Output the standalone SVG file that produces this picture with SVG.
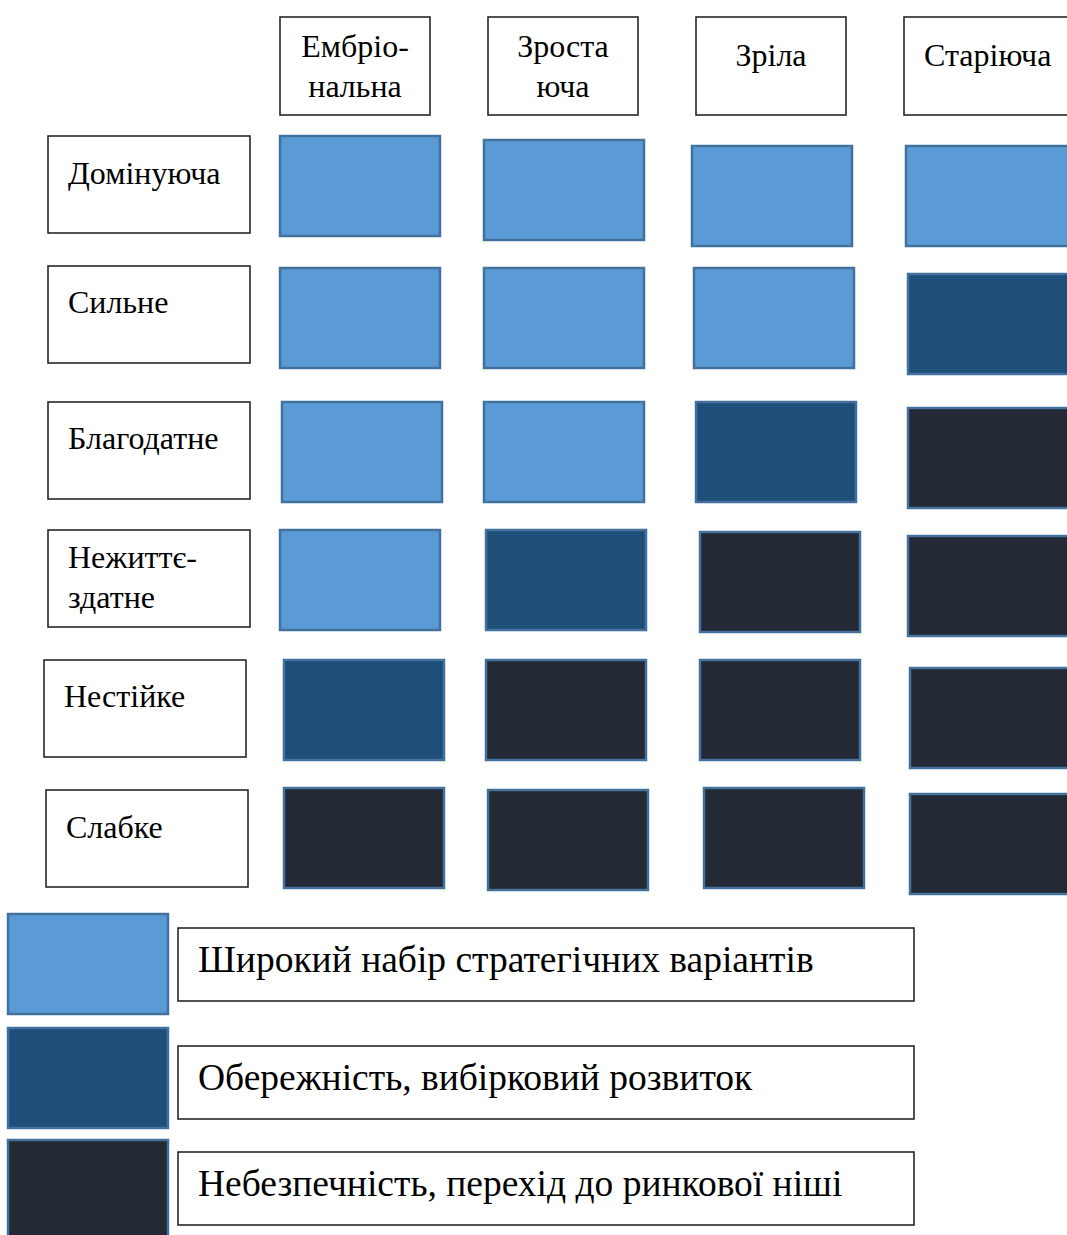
<svg xmlns="http://www.w3.org/2000/svg" width="1067" height="1235" viewBox="0 0 1067 1235">
<style>
.box{fill:#fff;stroke:#1a1a1a;stroke-width:1.5}
.t{font-family:"Liberation Serif","Times New Roman",serif;font-size:32px;fill:#000}
.tl{font-family:"Liberation Serif","Times New Roman",serif;font-size:37.5px;fill:#000}
.L{fill:#5B9BD5;stroke:#41719C;stroke-width:2.5}
.M{fill:#1F4E79;stroke:#41719C;stroke-width:2.5}
.D{fill:#232A35;stroke:#41719C;stroke-width:2.5}
</style>
<rect width="1067" height="1235" fill="#fff"/>
<g id="headers">
<g id="h1"><rect class="box" x="280" y="17" width="150" height="98"/><text class="t" x="355" y="57" text-anchor="middle">Ембріо-</text><text class="t" x="355" y="97" text-anchor="middle">нальна</text></g>
<g id="h2"><rect class="box" x="488" y="17" width="150" height="98"/><text class="t" x="563" y="57" text-anchor="middle">Зроста</text><text class="t" x="563" y="97" text-anchor="middle">юча</text></g>
<g id="h3"><rect class="box" x="696" y="17" width="150" height="98"/><text class="t" x="771" y="66" text-anchor="middle">Зріла</text></g>
<g id="h4"><rect class="box" x="904" y="17" width="170" height="98"/><text class="t" x="924" y="66">Старіюча</text></g>
</g>
<g id="rows">
<g id="r1"><rect class="box" x="48" y="136" width="202" height="97"/><text class="t" x="68" y="184">Домінуюча</text></g>
<g id="r2"><rect class="box" x="48" y="266" width="202" height="97"/><text class="t" x="68" y="313">Сильне</text></g>
<g id="r3"><rect class="box" x="48" y="402" width="202" height="97"/><text class="t" x="68" y="449">Благодатне</text></g>
<g id="r4"><rect class="box" x="48" y="530" width="202" height="97"/><text class="t" x="68" y="568">Нежиттє-</text><text class="t" x="68" y="608">здатне</text></g>
<g id="r5"><rect class="box" x="44" y="660" width="202" height="97"/><text class="t" x="64" y="707">Нестійке</text></g>
<g id="r6"><rect class="box" x="46" y="790" width="202" height="97"/><text class="t" x="66" y="838">Слабке</text></g>
</g>
<g id="cells">
<rect id="c11" class="L" x="280" y="136" width="160" height="100"/>
<rect id="c12" class="L" x="484" y="140" width="160" height="100"/>
<rect id="c13" class="L" x="692" y="146" width="160" height="100"/>
<rect id="c14" class="L" x="906" y="146" width="170" height="100"/>
<rect id="c21" class="L" x="280" y="268" width="160" height="100"/>
<rect id="c22" class="L" x="484" y="268" width="160" height="100"/>
<rect id="c23" class="L" x="694" y="268" width="160" height="100"/>
<rect id="c24" class="M" x="908" y="274" width="170" height="100"/>
<rect id="c31" class="L" x="282" y="402" width="160" height="100"/>
<rect id="c32" class="L" x="484" y="402" width="160" height="100"/>
<rect id="c33" class="M" x="696" y="402" width="160" height="100"/>
<rect id="c34" class="D" x="908" y="408" width="170" height="100"/>
<rect id="c41" class="L" x="280" y="530" width="160" height="100"/>
<rect id="c42" class="M" x="486" y="530" width="160" height="100"/>
<rect id="c43" class="D" x="700" y="532" width="160" height="100"/>
<rect id="c44" class="D" x="908" y="536" width="170" height="100"/>
<rect id="c51" class="M" x="284" y="660" width="160" height="100"/>
<rect id="c52" class="D" x="486" y="660" width="160" height="100"/>
<rect id="c53" class="D" x="700" y="660" width="160" height="100"/>
<rect id="c54" class="D" x="910" y="668" width="170" height="100"/>
<rect id="c61" class="D" x="284" y="788" width="160" height="100"/>
<rect id="c62" class="D" x="488" y="790" width="160" height="100"/>
<rect id="c63" class="D" x="704" y="788" width="160" height="100"/>
<rect id="c64" class="D" x="910" y="794" width="170" height="100"/>
</g>
<g id="legend">
<g id="lg1"><rect class="L" x="8" y="914" width="160" height="100"/><rect class="box" x="178" y="928" width="736" height="73"/><text class="tl" x="198" y="972">Широкий набір стратегічних варіантів</text></g>
<g id="lg2"><rect class="M" x="8" y="1028" width="160" height="100"/><rect class="box" x="178" y="1046" width="736" height="73"/><text class="tl" x="198" y="1090">Обережність, вибірковий розвиток</text></g>
<g id="lg3"><rect class="D" x="8" y="1140" width="160" height="100"/><rect class="box" x="178" y="1152" width="736" height="73"/><text class="tl" x="198" y="1196">Небезпечність, перехід до ринкової ніші</text></g>
</g>
<g id="connectors"/>
</svg>
